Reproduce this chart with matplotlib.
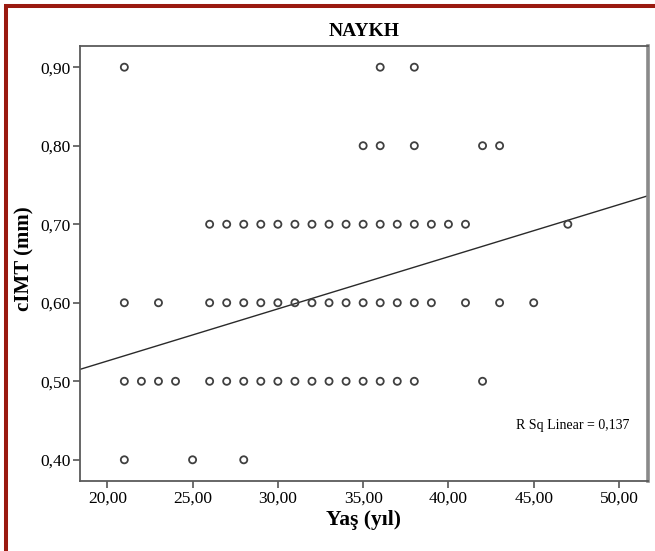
import matplotlib
matplotlib.use("Agg")
import matplotlib.pyplot as plt
from matplotlib.lines import Line2D
import numpy as np

plt.rcParams['font.family'] = ['Liberation Serif', 'DejaVu Serif']

# Data (age in years, cIMT in mm)
age_090 = [21, 36, 38]
age_080 = [35, 36, 38, 42, 43]
age_070 = [26, 27, 28, 29, 30, 31, 32, 33, 34, 35, 36, 37, 38, 39, 40, 41, 47]
age_060 = [21, 23, 26, 27, 28, 29, 30, 31, 32, 33, 34, 35, 36, 37, 38, 39, 41, 43, 45]
age_050 = [21, 22, 23, 24, 26, 27, 28, 29, 30, 31, 32, 33, 34, 35, 36, 37, 38, 42]
age_040 = [21, 25, 28]
cimt_levels = [0.90, 0.80, 0.70, 0.60, 0.50, 0.40]

fit_intercept = 0.393
fit_slope = 0.00664
r_sq_text = "R Sq Linear = 0,137"

x_ticks = [20, 25, 30, 35, 40, 45, 50]
y_ticks = [0.40, 0.50, 0.60, 0.70, 0.80, 0.90]

title = "NAYKH"
x_label = "Yaş (yıl)"
y_label = "cIMT (mm)"

fig = plt.figure(figsize=(6.55, 5.51), dpi=100)
ax = fig.add_axes([80/655, 1-481/551, (648-80)/655, (481-46)/551])

groups = [age_090, age_080, age_070, age_060, age_050, age_040]
for ages, lvl in zip(groups, cimt_levels):
    ax.scatter(ages, [lvl]*len(ages), s=26, facecolors='none',
               edgecolors='#404040', linewidths=1.3, zorder=3)

xlim = (18.4, 51.7)
xs = np.array(xlim)
ax.plot(xs, fit_intercept + fit_slope*xs, color='#2a2a2a', lw=1.0, zorder=2)

ax.set_xlim(*xlim)
ax.set_ylim(0.373, 0.927)
ax.set_xticks(x_ticks)
ax.set_xticklabels([f"{v:.2f}".replace('.', ',') for v in x_ticks])
ax.set_yticks(y_ticks)
ax.set_yticklabels([f"{v:.2f}".replace('.', ',') for v in y_ticks])
ax.tick_params(axis='both', direction='out', length=4.7, width=1.2, color='#555555',
               labelsize=12.5, pad=2)

for s in ['left', 'top', 'bottom']:
    ax.spines[s].set_color('#5a5a5a')
    ax.spines[s].set_linewidth(1.3)
ax.spines['right'].set_color('#8a8a8a')
ax.spines['right'].set_linewidth(2.6)

ax.text(0.968, 0.128, r_sq_text, transform=ax.transAxes, ha='right', va='center',
        fontsize=10)

fig.text(364/655, 1-31/551, title, ha='center', va='center', fontsize=14, fontweight='bold')
fig.text(364/655, 1-520/551, x_label, ha='center', va='center', fontsize=15.5, fontweight='bold')
fig.text(24/655, 1-259/551, y_label, ha='center', va='center', fontsize=15,
         fontweight='bold', rotation=90)

red = '#9a1a10'
fig.add_artist(Line2D([4/655, 1.0], [1-5.5/551, 1-5.5/551], transform=fig.transFigure,
                      color=red, lw=2.9, solid_capstyle='butt'))
fig.add_artist(Line2D([5.5/655, 5.5/655], [0.0, 1-4/551], transform=fig.transFigure,
                      color=red, lw=2.9, solid_capstyle='butt'))

fig.savefig("out.png", dpi=100)
